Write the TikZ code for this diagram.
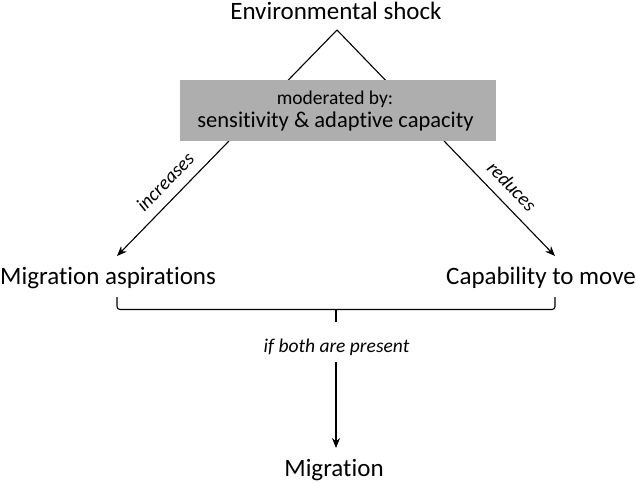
\documentclass[tikz,border=0pt]{standalone}
\usepackage{fontspec}
\setmainfont{Carlito}[Ligatures={NoCommon,NoContextual}]
\usetikzlibrary{arrows.meta}
\definecolor{boxgray}{RGB}{174,174,174}
\begin{document}
\begin{tikzpicture}[x=1pt,y=-1pt,
  big/.style={font=\fontsize{25}{30}\selectfont, inner sep=0pt, anchor=base},
  lab/.style={font=\fontsize{19.5}{23}\selectfont\itshape, inner sep=0pt},
  arr/.style={line width=1.1pt, -{Stealth[length=10pt,width=8pt]}},
  ln/.style={line width=1.1pt},
  graybox/.style={fill=boxgray, draw=none, minimum width=316pt, minimum height=61pt, inner sep=0pt}]
\useasboundingbox (0,0) rectangle (636,482);
\node[big] (env) at (336,19) {Environmental shock};
\coordinate (apex) at (337,30);
\coordinate (tipL) at (117,256);
\coordinate (tipR) at (555,256);
\draw[arr] (apex) -- node[lab, sloped, above=10pt, pos=0.725] (incr) {increases} (tipL);
\draw[arr] (apex) -- node[lab, sloped, above=10pt, pos=0.745] (redu) {reduces} (tipR);
\node[graybox] (box) at (338,110.5) {};
\node[anchor=base, inner sep=0pt, font=\fontsize{19.5}{23}\selectfont] (modby) at (335,104) {moderated by:};
\node[anchor=base, inner sep=0pt, font=\fontsize{22.5}{26}\selectfont] (sens) at (335.5,127) {sensitivity \& adaptive capacity};
\node[big, anchor=base west] (asp) at (0,284) {Migration aspirations};
\node[big, anchor=base east] (cap) at (636,284) {Capability to move};
\coordinate (bL) at (117,297);
\coordinate (bR) at (555,297);
\coordinate (bM) at (336,309.5);
\draw[ln, rounded corners=3pt] (bL) |- (bM) -| (bR);
\coordinate (bT) at (336,322);
\draw[ln] (bM) -- (bT);
\node[lab, anchor=base] (ifb) at (336.5,352) {if both are present};
\coordinate (dTop) at (336,362);
\coordinate (dBot) at (336,448);
\draw[arr] (dTop) -- (dBot);
\node[big] (migr) at (334,476.7) {Migration};
\end{tikzpicture}
\end{document}
